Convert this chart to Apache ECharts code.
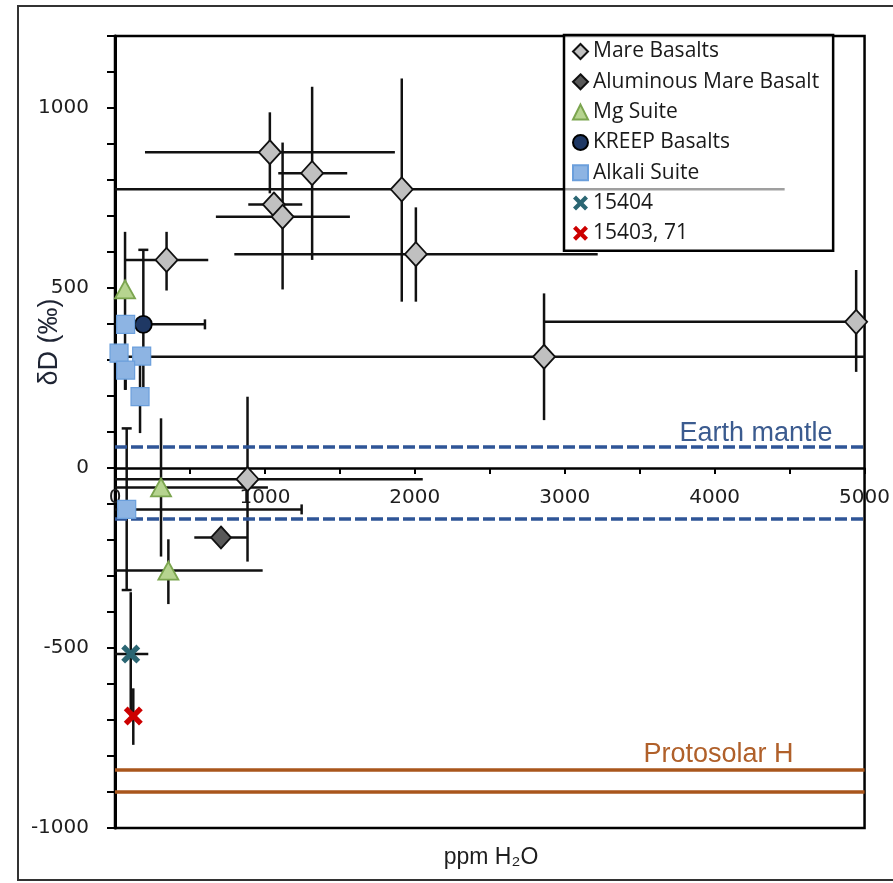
<!DOCTYPE html>
<html><head><meta charset="utf-8">
<script src="https://cdn.jsdelivr.net/npm/echarts@6/dist/echarts.min.js"></script>
<style>html,body{margin:0;padding:0;background:#fff}#c{width:893px;height:883px}</style>
</head><body><div id="c"></div><script>
// ---- data ----
const mareBasalts = [[1033,877],[1315,819],[1913,774],[1060,732],[1118,698],[2007,594],[344,578],[2862,309],[4944,406],[884,-31]];
const mareXErr = [[200,1867],[1089,1549],[0,4467],[889,1249],[673,1567],[796,3220],[67,622],[0,5000],[2862,5000],[0,2053]];
const mareYErr = [[763,988],[578,1059],[462,1082],[700,765],[496,904],[462,724],[493,656],[133,485],[267,550],[-260,198]];

const aluminousMare = [[707,-193]];
const aluminousXErr = [[529,885]];
const aluminousYErr = [[-210,-176]];

const mgSuite = [[67,496],[307,-54],[356,-285]];
const mgXErr = [null,[0,1020],[0,985]];
const mgYErr = [[217,656],[-246,138],[-378,-198]];

const kreep = [[189,399]];
const kreepXErr = [[0,600]];
const kreepYErr = [[192,606]];
const kreepCaps = [1];

const alkali = [[71,399],[27,319],[178,311],[71,272],[167,198],[78,-115]];
const alkaliXErr = [null,null,null,null,null,[0,1245]];
const alkaliYErr = [null,null,null,[217,327],[97,298],[-339,110]];
const alkaliCaps = [0,0,0,0,0,1];

const s15404 = [[105,-517]];
const s15404XErr = [[0,222]];
const s15404YErr = [[-689,-345]];

const s15403 = [[122,-689]];
const s15403XErr = [null];
const s15403YErr = [[-769,-612]];

const earthMantle = [59,-140];
const protosolarH = [-837,-899];

const xTicks = {min:0, max:5000, interval:1000};
const yTicks = {min:-1000, max:1200, interval:100, labelStep:500};

// ---- layout ----
const GRID = {left:115, right:28, top:36, bottom:55};
const CH = 883;
const gridH = CH - GRID.top - GRID.bottom;
// offset of the x axis so that it crosses the y axis at zero
const xAxisOffset = -gridH * (0 - yTicks.min) / (yTicks.max - yTicks.min);

// ---- helpers ----
function errRows(pts, xe, ye, caps){
  return pts.map((p,i)=>{
    const xr = xe[i] || [p[0],p[0]];
    const yr = ye[i] || [p[1],p[1]];
    return [p[0],p[1],xr[0],xr[1],yr[0],yr[1],caps?caps[i]:0];
  });
}
function renderErr(params, api){
  const x=api.value(0), y=api.value(1);
  const xlo=api.value(2), xhi=api.value(3), ylo=api.value(4), yhi=api.value(5), cap=api.value(6);
  const c=api.coord([x,y]);
  const pl=api.coord([xlo,y]), ph=api.coord([xhi,y]);
  const ql=api.coord([x,ylo]), qh=api.coord([x,yhi]);
  const st={stroke:'#111', lineWidth:2.5};
  const ch=[];
  if (xhi>xlo) ch.push({type:'line', shape:{x1:pl[0],y1:c[1],x2:ph[0],y2:c[1]}, style:st});
  if (yhi>ylo) ch.push({type:'line', shape:{x1:c[0],y1:ql[1],x2:c[0],y2:qh[1]}, style:st});
  if (cap){
    const h=5;
    if (xhi>xlo) ch.push({type:'line', shape:{x1:ph[0],y1:c[1]-h,x2:ph[0],y2:c[1]+h}, style:st});
    if (yhi>ylo){
      ch.push({type:'line', shape:{x1:c[0]-h,y1:qh[1],x2:c[0]+h,y2:qh[1]}, style:st});
      ch.push({type:'line', shape:{x1:c[0]-h,y1:ql[1],x2:c[0]+h,y2:ql[1]}, style:st});
    }
  }
  return {type:'group', children:ch};
}
function errSeries(rows){
  return {type:'custom', renderItem:renderErr, data:rows, encode:{x:0,y:1}, z:2, silent:true, clip:true};
}
const xPath = 'path://M0,2 L2,0 L5,3 L8,0 L10,2 L7,5 L10,8 L8,10 L5,7 L2,10 L0,8 L3,5 Z';

const chart = echarts.init(document.getElementById('c'), null, {renderer:'canvas'});
const option = {
  animation:false,
  backgroundColor:'#fff',
  grid:{left:GRID.left, right:GRID.right, top:GRID.top, bottom:GRID.bottom, show:true, borderColor:'#000', borderWidth:2.5},
  xAxis:{type:'value', min:xTicks.min, max:xTicks.max, interval:xTicks.interval,
    position:'bottom', offset:xAxisOffset,
    axisLine:{onZero:false, lineStyle:{color:'#000', width:2.5}},
    axisTick:{show:true, length:6, lineStyle:{color:'#000', width:2}},
    minorTick:{show:true, splitNumber:2, length:6, lineStyle:{color:'#000', width:2}},
    axisLabel:{margin:20, fontSize:20, color:'#1e1e1e', fontFamily:'DejaVu Sans', formatter:v=>String(v)},
    splitLine:{show:false}},
  yAxis:{type:'value', min:yTicks.min, max:yTicks.max, interval:yTicks.interval,
    axisLine:{lineStyle:{color:'#000', width:3}},
    axisTick:{length:8, lineStyle:{color:'#000', width:2}},
    axisLabel:{margin:26, fontSize:20, color:'#1e1e1e', fontFamily:'DejaVu Sans',
      formatter:v=> (v % yTicks.labelStep === 0) ? String(v) : ''},
    splitLine:{show:false}},
  legend:{orient:'vertical', left:564, top:35, padding:[6,14,7,8],
    backgroundColor:'rgba(255,255,255,0.6)', borderColor:'#000', borderWidth:2.5,
    itemWidth:15, itemHeight:15, itemGap:9.3,
    textStyle:{fontSize:21, color:'#1a1a1a', fontFamily:'Open Sans', lineHeight:20},
    data:['Mare Basalts','Aluminous Mare Basalt','Mg Suite','KREEP Basalts','Alkali Suite','15404','15403, 71']},
  graphic:[
    {type:'rect', shape:{x:18, y:6, width:885, height:874}, style:{fill:'none', stroke:'#333', lineWidth:2}, z:-1},
    {type:'text', x:50, y:342, rotation:Math.PI/2, style:{text:'δD (‰)', font:'27px "Liberation Sans"', fill:'#1e2433', align:'center', verticalAlign:'middle'}},
    {type:'text', x:491, y:858, style:{text:'ppm H₂O', font:'23px "Liberation Sans"', fill:'#1e1e1e', align:'center', verticalAlign:'middle'}}
  ],
  series:[
    errSeries(errRows(mareBasalts, mareXErr, mareYErr)),
    errSeries(errRows(aluminousMare, aluminousXErr, aluminousYErr)),
    errSeries(errRows(mgSuite, mgXErr, mgYErr)),
    errSeries(errRows(kreep, kreepXErr, kreepYErr, kreepCaps)),
    errSeries(errRows(alkali, alkaliXErr, alkaliYErr, alkaliCaps)),
    errSeries(errRows(s15404, s15404XErr, s15404YErr)),
    errSeries(errRows(s15403, s15403XErr, s15403YErr)),
    {type:'line', data:[], z:1, markLine:{silent:true, symbol:'none', animation:false,
      data:[
        {yAxis:earthMantle[0], lineStyle:{color:'#2f5597', width:3.5, type:[12,4]},
          label:{show:true, formatter:'Earth mantle', position:'insideEndTop', distance:0, padding:[0,32,0,0],
            color:'#3b5b8f', fontSize:27, fontFamily:'"Liberation Sans Narrow", "Liberation Sans"'}},
        {yAxis:earthMantle[1], lineStyle:{color:'#2f5597', width:3.5, type:[12,4]}, label:{show:false}},
        {yAxis:protosolarH[0], lineStyle:{color:'#a9561c', width:3.5, type:'solid'},
          label:{show:true, formatter:'Protosolar H', position:'insideEndTop', distance:1, padding:[0,70,0,0],
            color:'#b0602a', fontSize:27, fontFamily:'"Liberation Sans Narrow", "Liberation Sans"'}},
        {yAxis:protosolarH[1], lineStyle:{color:'#a9561c', width:3.5, type:'solid'}, label:{show:false}}
      ]}},
    {name:'Mare Basalts', type:'scatter', data:mareBasalts, symbol:'diamond', symbolSize:[22,24], z:5,
      itemStyle:{color:'#c0c0c0', borderColor:'#111', borderWidth:1.8, opacity:1}},
    {name:'Aluminous Mare Basalt', type:'scatter', data:aluminousMare, symbol:'diamond', symbolSize:[20,22], z:5,
      itemStyle:{color:'#595959', borderColor:'#111', borderWidth:1.8, opacity:1}},
    {name:'Mg Suite', type:'scatter', data:mgSuite, symbol:'triangle', symbolSize:[20,18], z:5,
      itemStyle:{color:'#b6d48f', borderColor:'#7ba54f', borderWidth:1.8, opacity:1}},
    {name:'KREEP Basalts', type:'scatter', data:kreep, symbol:'circle', symbolSize:17, z:5,
      itemStyle:{color:'#1f3864', borderColor:'#000', borderWidth:1.8, opacity:1}},
    {name:'Alkali Suite', type:'scatter', data:alkali, symbol:'rect', symbolSize:18, z:5,
      itemStyle:{color:'#8db4e3', borderColor:'#6b9fdc', borderWidth:1.2, opacity:1}},
    {name:'15404', type:'scatter', data:s15404, symbol:xPath, symbolSize:19, z:5,
      itemStyle:{color:'#2b6673', opacity:1}},
    {name:'15403, 71', type:'scatter', data:s15403, symbol:xPath, symbolSize:19, z:5,
      itemStyle:{color:'#cc0000', opacity:1}}
  ]
};
chart.setOption(option);
</script></body></html>
